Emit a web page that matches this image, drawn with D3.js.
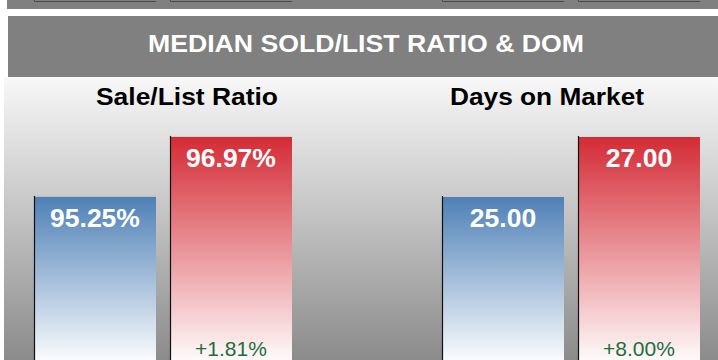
<!DOCTYPE html>
<html>
<head>
<meta charset="utf-8">
<script src="https://cdn.jsdelivr.net/npm/d3@7"></script>
<style>
  html, body { margin: 0; padding: 0; background: #ffffff; }
  svg { display: block; font-family: "Liberation Sans", Arial, sans-serif; }
</style>
</head>
<body>
<svg id="chart" width="718" height="360"></svg>
<script>
// Section title and the two metric panels
const sectionTitle = "MEDIAN SOLD/LIST RATIO & DOM";
const panelTitles = ["Sale/List Ratio", "Days on Market"];
const periods = ["Previous", "Current"];

// Median values per period
const ratioValues = [95.25, 96.97];   // percent
const domValues = [25.00, 27.00];     // days

const W = 718, H = 360;
const svg = d3.select("#chart");
const defs = svg.append("defs");

// Background gradient of the chart body
const bg = defs.append("linearGradient").attr("id", "bodyBg")
  .attr("x1", 0).attr("y1", 0).attr("x2", 0).attr("y2", 1);
bg.append("stop").attr("offset", 0).attr("stop-color", "#f8f8f8");
bg.append("stop").attr("offset", 1).attr("stop-color", "#8b8b8b");

// Strip left over from the section above, with the feet of its boxes
svg.append("rect").attr("x", 7).attr("y", 0).attr("width", W - 7).attr("height", 9).attr("fill", "#808080");
const stubX = d3.scaleBand().domain(periods).range([34, 292]).paddingInner(0.103);
[0, 408].forEach(off => {
  periods.forEach(p => {
    const x0 = off + stubX(p), x1 = x0 + stubX.bandwidth();
    svg.append("path")
      .attr("d", `M${x0 + 0.5},-2V1.5H${x1}`)
      .attr("fill", "none").attr("stroke", "#4a4a4a").attr("stroke-width", 1);
  });
});

// Section header band
svg.append("rect").attr("x", 8).attr("y", 16).attr("width", W - 8).attr("height", 61).attr("fill", "#808080");
svg.append("text").attr("x", 366).attr("y", 52)
  .attr("text-anchor", "middle").attr("fill", "#ffffff")
  .attr("font-size", 23.5).attr("font-weight", "bold")
  .attr("textLength", 436).attr("lengthAdjust", "spacingAndGlyphs")
  .text(sectionTitle);

// Chart body
svg.append("rect").attr("x", 4).attr("y", 77).attr("width", W - 4).attr("height", H - 77).attr("fill", "url(#bodyBg)");

const fmtChange = d3.format("+.2%");
const panels = [
  { title: panelTitles[0], values: ratioValues, offset: 0, titleX: 187, titleLen: 182,
    y: d3.scaleLinear().domain([90, 98]).range([380, 380 - 8 * 34.88]),
    fmt: v => d3.format(".2f")(v) + "%" },
  { title: panelTitles[1], values: domValues, offset: 408, titleX: 547, titleLen: 194,
    y: d3.scaleLinear().domain([19, 28]).range([377, 107]),
    fmt: d3.format(".2f") }
];

const colors = ["#4e80b6", "#d42b35"];

panels.forEach((pn, pi) => {
  const g = svg.append("g");
  const x = d3.scaleBand().domain(periods)
    .range([34 + pn.offset, 292 + pn.offset]).paddingInner(0.103);

  g.append("text").attr("x", pn.titleX).attr("y", 105)
    .attr("text-anchor", "middle").attr("fill", "#000000")
    .attr("font-size", 23.5).attr("font-weight", "bold")
    .attr("textLength", pn.titleLen).attr("lengthAdjust", "spacingAndGlyphs")
    .text(pn.title);

  const y0 = pn.y.range()[0];
  pn.values.forEach((v, i) => {
    const top = pn.y(v);
    const gid = `barGrad${pi}${i}`;
    const gr = defs.append("linearGradient").attr("id", gid)
      .attr("gradientUnits", "userSpaceOnUse")
      .attr("x1", 0).attr("x2", 0).attr("y1", top).attr("y2", 366);
    gr.append("stop").attr("offset", 0).attr("stop-color", colors[i]);
    gr.append("stop").attr("offset", 1).attr("stop-color", "#ffffff");

    const bx = x(periods[i]), bw = x.bandwidth();
    g.append("rect").attr("x", bx).attr("y", top)
      .attr("width", bw).attr("height", y0 - top)
      .attr("fill", `url(#${gid})`);
    g.append("line").attr("x1", bx + 0.5).attr("x2", bx + 0.5)
      .attr("y1", top - 1).attr("y2", y0)
      .attr("stroke", "#111111").attr("stroke-width", 1.2);

    g.append("text").attr("x", bx + bw / 2).attr("y", top + 30)
      .attr("text-anchor", "middle").attr("fill", "#ffffff")
      .attr("font-size", 26.5).attr("font-weight", "bold")
      .text(pn.fmt(v));
  });

  // Change from previous to current period, under the current bar
  const change = (pn.values[1] - pn.values[0]) / pn.values[0];
  g.append("text").attr("x", x(periods[1]) + x.bandwidth() / 2).attr("y", 356)
    .attr("text-anchor", "middle").attr("fill", "#1d6e3e")
    .attr("font-size", 21)
    .text(fmtChange(change));
});
</script>
</body>
</html>
